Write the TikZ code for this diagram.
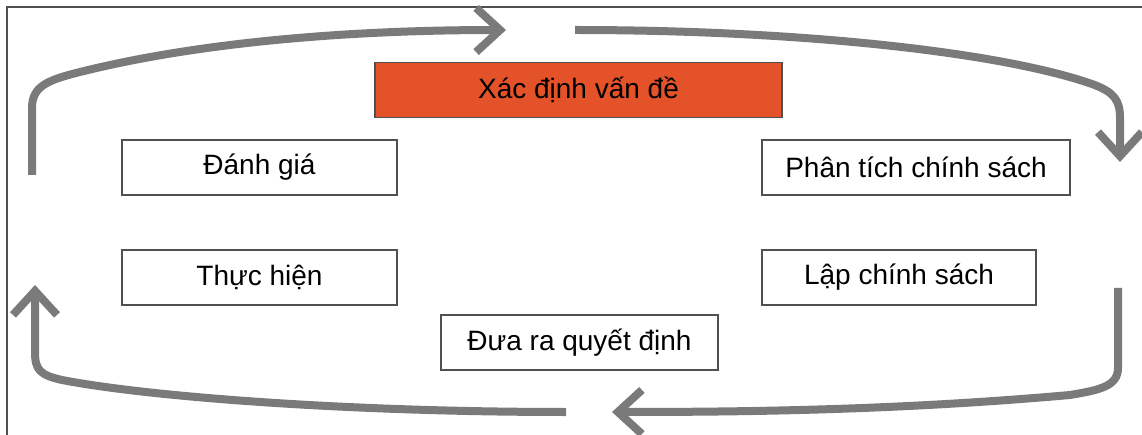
\documentclass[tikz,border=0pt]{standalone}
\usepackage{fontspec}
\setmainfont{Liberation Sans}
\usetikzlibrary{arrows.meta}
\definecolor{cyc}{HTML}{7A7A7A}
\definecolor{hot}{HTML}{E4522A}
\definecolor{frm}{HTML}{505050}
\begin{document}
\begin{tikzpicture}[x=1pt,y=-1pt,
  stage/.style={draw=frm,line width=1.3pt,fill=white,minimum height=55pt,inner sep=0pt,font=\fontsize{28}{34}\selectfont},
  cycarrow/.style={draw=cyc,line width=8pt,-{Straight Barb[length=24pt,width=44pt,line width=8pt]}}]
\useasboundingbox (0,0) rectangle (1142,435);
\draw[frm,line width=1.2pt] (7,440) -- (7,7) -- (1150,7);
\node[stage,fill=hot,minimum width=407pt] (xd) at (578.5,90) {Xác định vấn đề};
\node[stage,minimum width=275pt] (dg) at (259.5,167.5) {Đánh giá};
\node[stage,minimum width=308pt] (pt) at (916,167.5) {Phân tích chính sách};
\node[stage,minimum width=275pt] (th) at (259.5,277.5) {Thực hiện};
\node[stage,minimum width=274pt] (lp) at (899,277.5) {Lập chính sách};
\node[stage,minimum width=277pt] (dr) at (579.5,342.5) {Đưa ra quyết định};
\coordinate (a1s) at (32,175);
\coordinate (a1e) at (506,30);
\coordinate (a2s) at (575,30);
\coordinate (a2e) at (1120,162);
\coordinate (a3s) at (1118,288);
\coordinate (a3e) at (612,412);
\coordinate (a4s) at (566,412);
\coordinate (a4e) at (35,285);
\path[cycarrow] (a1s) -- (32,108) .. controls (32,86) and (48,80) .. (80,72) .. controls (200,42) and (350,30) .. (a1e);
\path[cycarrow] (a2s) .. controls (800,30) and (1000,52) .. (1092,84) .. controls (1114,92) and (1120,100) .. (1120,118) -- (a2e);
\path[cycarrow] (a3s) -- (1118,368) .. controls (1118,386) and (1100,390) .. (1070,395) .. controls (900,410) and (750,412) .. (a3e);
\path[cycarrow] (a4s) .. controls (350,412) and (150,397) .. (62,380) .. controls (40,375) and (35,370) .. (35,352) -- (a4e);
\end{tikzpicture}
\end{document}
